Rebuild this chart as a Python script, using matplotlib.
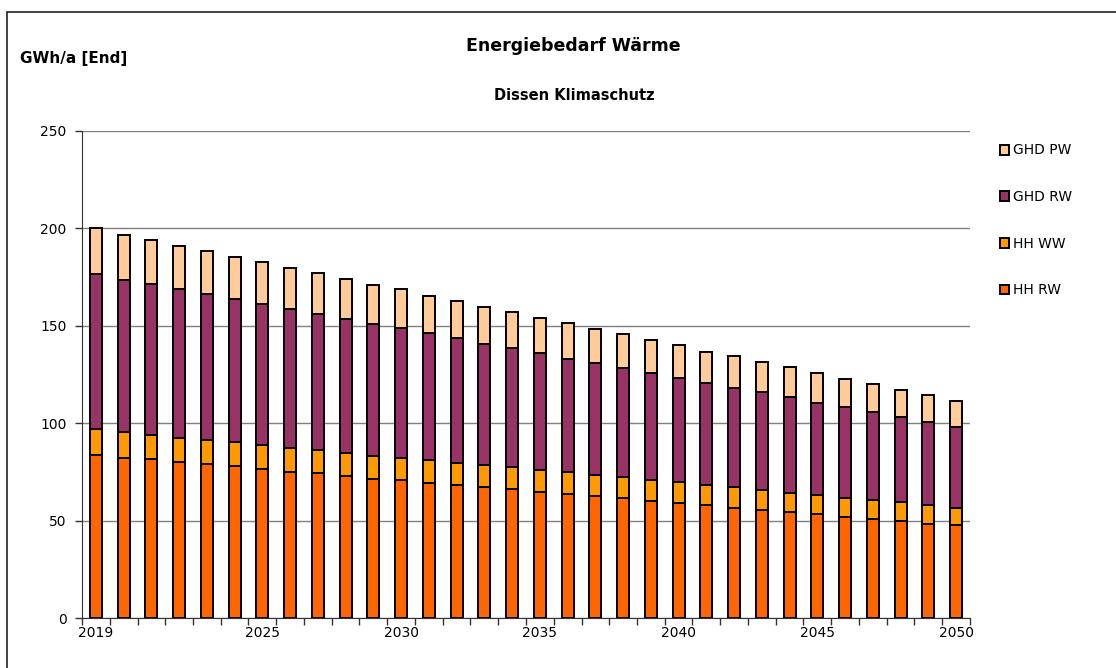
import matplotlib
matplotlib.use("Agg")
import matplotlib.pyplot as plt
from matplotlib.patches import Rectangle
import numpy as np

years = list(range(2019, 2051))
shown_years = [2019, 2025, 2030, 2035, 2040, 2045, 2050]

hh_rw = [83.6, 82.2, 81.5, 80.0, 78.8, 77.9, 76.5, 75.2, 74.3, 72.9, 71.6,
         70.9, 69.4, 68.2, 67.1, 66.0, 64.9, 63.7, 62.5, 61.5, 60.1, 58.9,
         57.9, 56.7, 55.3, 54.5, 53.3, 51.9, 50.9, 49.7, 48.5, 47.6]
hh_ww = [13.2, 13.2, 12.5, 12.6, 12.5, 12.2, 12.2, 12.1, 11.8, 11.9, 11.8,
         11.4, 11.6, 11.3, 11.4, 11.4, 11.3, 11.1, 11.0, 10.7, 10.8, 10.7,
         10.3, 10.3, 10.3, 9.8, 9.6, 9.6, 9.6, 9.6, 9.5, 9.1]
ghd_rw = [79.8, 78.2, 77.5, 76.2, 75.1, 73.6, 72.4, 71.4, 69.9, 68.6, 67.3,
          66.5, 65.1, 64.0, 62.2, 61.3, 59.8, 58.4, 57.2, 56.3, 55.0, 53.5,
          52.2, 51.3, 50.2, 49.0, 47.5, 46.7, 45.2, 43.8, 42.4, 41.4]
ghd_pw = [23.4, 22.8, 22.7, 22.3, 21.9, 21.6, 21.5, 20.9, 20.9, 20.6, 20.4,
          20.0, 19.4, 19.3, 19.0, 18.5, 18.2, 18.2, 17.6, 17.3, 16.9, 17.0,
          16.2, 16.1, 15.6, 15.6, 15.3, 14.7, 14.5, 14.1, 14.1, 13.2]

series = [("HH RW", hh_rw, "#FF6600"),
          ("HH WW", hh_ww, "#FF9900"),
          ("GHD RW", ghd_rw, "#993366"),
          ("GHD PW", ghd_pw, "#FFCC99")]

fig = plt.figure(figsize=(11.16, 6.68), dpi=100)
ax = fig.add_axes([82 / 1116, 50 / 668, 888 / 1116, 487 / 668])

# outer frame like the spreadsheet chart area
fig.patches.append(Rectangle((7 / 1116, -0.05), 1.2, (656 / 668) + 0.05,
                             transform=fig.transFigure, fill=False,
                             edgecolor="#222222", linewidth=1.2))

x = np.arange(len(years))
bottom = np.zeros(len(years))
handles = []
for name, vals, color in series:
    h = ax.bar(x, vals, width=0.43, bottom=bottom, color=color,
               edgecolor="black", linewidth=1.4, label=name, zorder=3)
    handles.append(h)
    bottom += np.array(vals)

ax.set_xlim(-0.5, len(years) - 0.5)
ax.set_ylim(0, 250)
ax.set_yticks([0, 50, 100, 150, 200, 250])
ax.yaxis.grid(True, color="#808080", linewidth=1.0, zorder=0)
ax.set_axisbelow(True)

ax.set_xticks([years.index(y) for y in shown_years])
ax.set_xticklabels([str(y) for y in shown_years])
ax.set_xticks(np.arange(-0.5, len(years), 1.0), minor=True)
ax.tick_params(axis="x", which="major", length=0, pad=6, labelsize=10)
ax.tick_params(axis="x", which="minor", length=5, width=1, color="#333333")
ax.tick_params(axis="y", length=5, width=1, color="#333333", labelsize=10,
               pad=6)

for s in ["top", "right"]:
    ax.spines[s].set_visible(False)
ax.spines["left"].set_color("#333333")
ax.spines["bottom"].set_color("#333333")

fig.text(573 / 1116, 1 - 46 / 668, "Energiebedarf Wärme", ha="center",
         va="center", fontsize=12.5, fontweight="bold")
fig.text(574 / 1116, 1 - 95 / 668, "Dissen Klimaschutz", ha="center",
         va="center", fontsize=10.5, fontweight="bold")
fig.text(20 / 1116, 1 - 59 / 668, "GWh/a [End]", ha="left", va="center",
         fontsize=11, fontweight="bold")

leg = fig.legend(handles=handles[::-1], loc="upper left",
                 bbox_to_anchor=(987 / 1116, 1 - 131 / 668), frameon=False,
                 fontsize=10, labelspacing=2.35, handlelength=0.7,
                 handleheight=0.7, handletextpad=0.3)

plt.savefig("out.png", dpi=100)
